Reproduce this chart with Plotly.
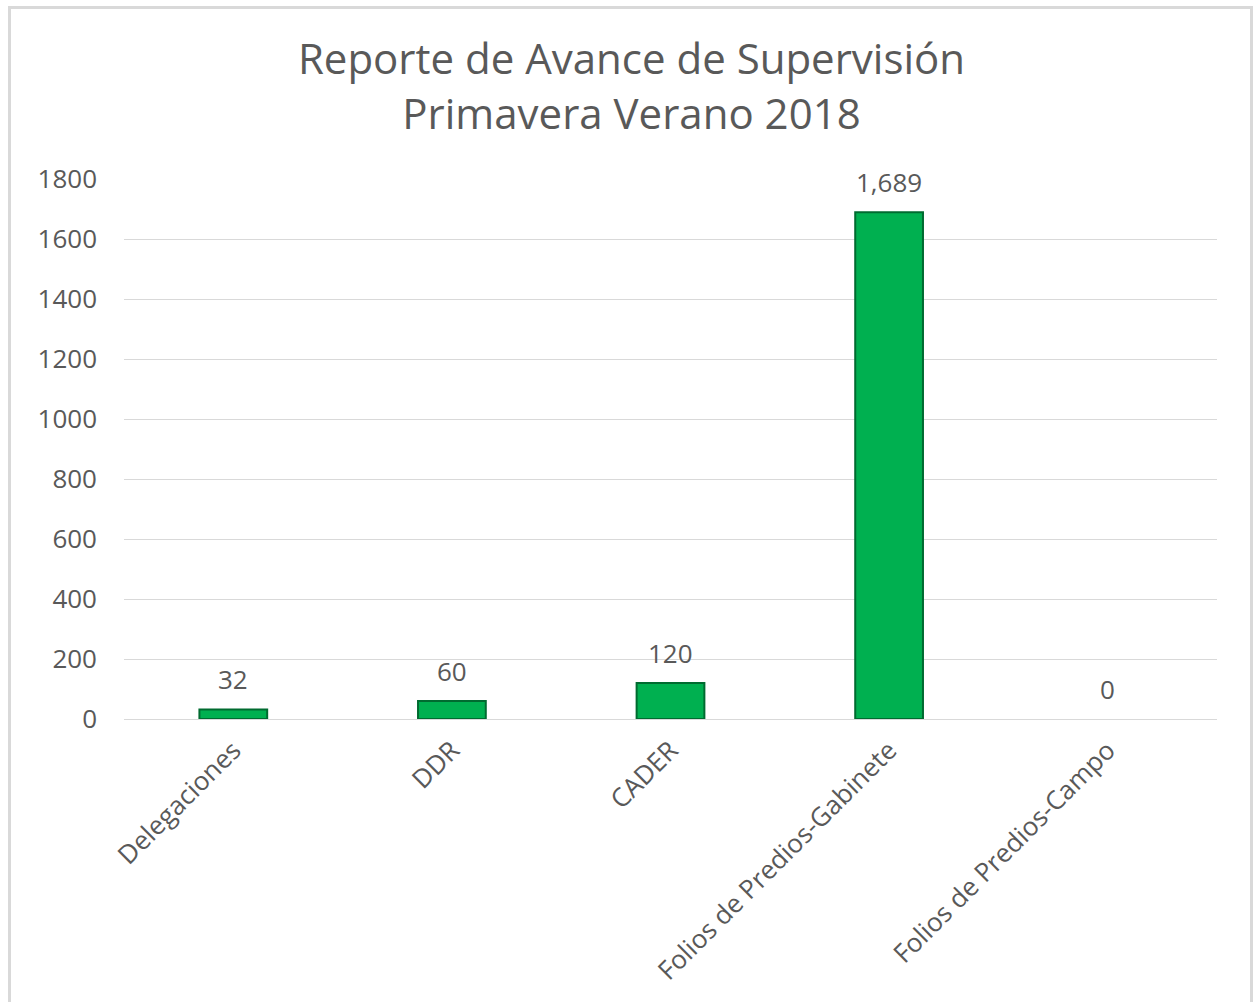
import plotly.graph_objects as go

categories = ["Delegaciones", "DDR", "CADER", "Folios de Predios-Gabinete", "Folios de Predios-Campo"]
values = [32, 60, 120, 1689, 0]
y_ticks = [0, 200, 400, 600, 800, 1000, 1200, 1400, 1600, 1800]
title_lines = ["Reporte de Avance de Supervisión", "Primavera Verano 2018"]

FONT = "Open Sans"
GRAY = "#595959"

W, H = 1253, 1002
L, R, T, B = 124, 36, 179, 283
PW, PH = W - L - R, H - T - B

fig = go.Figure()
fig.add_trace(go.Bar(
    x=categories,
    y=values,
    width=0.31,
    marker=dict(
        color="#00b050",
        line=dict(color="#006b30", width=[2 if v > 0 else 0 for v in values]),
    ),
    hoverinfo="x+y",
))

annotations = [
    dict(
        x=c, y=v, xref="x", yref="y",
        text=f"{v:,}",
        showarrow=False,
        yanchor="middle",
        yshift=30,
        font=dict(family=FONT, size=26, color=GRAY),
    )
    for c, v in zip(categories, values)
]

fig.update_layout(
    width=W, height=H,
    margin=dict(l=L, r=R, t=T, b=B),
    paper_bgcolor="white",
    plot_bgcolor="white",
    showlegend=False,
    title=dict(
        text="<br>".join(title_lines),
        x=0.504, xanchor="center",
        y=1 - 74 / H, yanchor="middle",
        font=dict(family=FONT, size=42, color=GRAY),
    ),
    bargap=0.69,
    xaxis=dict(
        tickangle=-45,
        tickfont=dict(family=FONT, size=26, color=GRAY),
        showgrid=False,
        showline=False,
        ticks="",
        ticklabelstandoff=10,
    ),
    yaxis=dict(
        range=[0, 1800],
        tickvals=y_ticks,
        tickfont=dict(family=FONT, size=26, color=GRAY),
        gridcolor="#d9d9d9",
        gridwidth=1,
        zeroline=True,
        zerolinecolor="#d9d9d9",
        zerolinewidth=1,
        showline=False,
        ticks="",
        ticklabelstandoff=26,
    ),
    annotations=annotations,
    shapes=[dict(
        type="rect", xref="paper", yref="paper",
        x0=(9.5 - L) / PW, x1=(1251.5 - L) / PW,
        y0=-(B + 20) / PH, y1=1 + (T - 7.5) / PH,
        line=dict(color="#d9d9d9", width=3),
        fillcolor="rgba(0,0,0,0)",
        layer="below",
    )],
)

fig.write_html(
    "out.html",
    config={"displayModeBar": False},
    post_script="document.body.style.margin='0';",
)
